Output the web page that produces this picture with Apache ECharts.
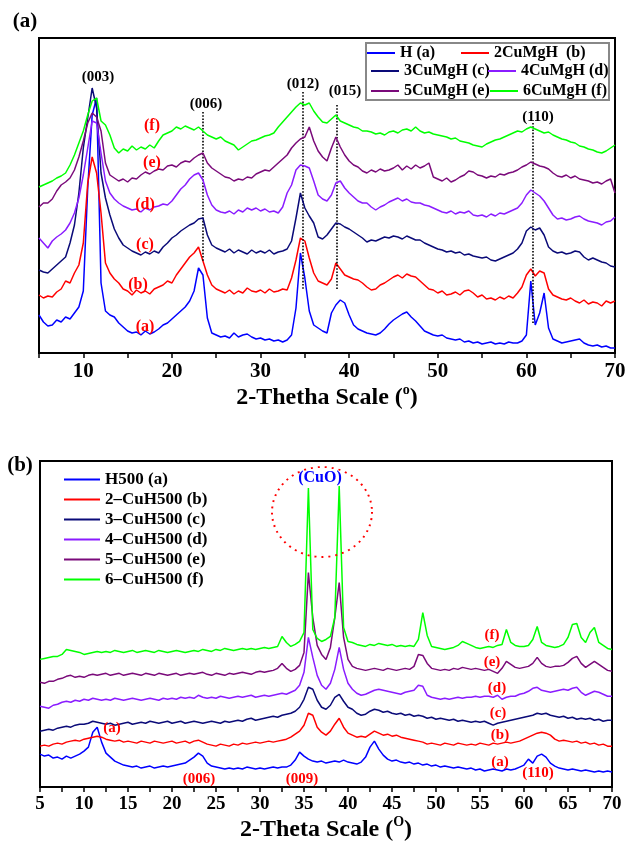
<!DOCTYPE html>
<html>
<head>
<meta charset="utf-8">
<script src="https://cdn.jsdelivr.net/npm/echarts@6/dist/echarts.min.js"></script>
<style>
html, body { margin: 0; padding: 0; background: #fff; }
#xrd { width: 629px; height: 843px; }
</style>
</head>
<body>
<div id="xrd"></div>
<script>
// 2-theta grid: every series starts at 5 deg, one value per 0.5 deg up to 70
var thetaStart = 5, thetaStep = 0.5;

// ---- panel (a): as-prepared samples (stacked intensity, arbitrary units) ----
var namesA = ['H (a)', '2CuMgH  (b)', '3CuMgH (c)', '4CuMgH (d)', '5CuMgH (e)', '6CuMgH (f)'];
var H_a = [38,31,27,28,33,31,36,34,40,46, 62,165,238,255,70,42,38,36,30,26,
  22,20,21,18,22,19,21,24,28,30, 34,38,42,46,52,62,85,78,35,20,
  18,16,17,15,20,16,18,19,16,14, 15,13,14,12,13,11,13,18,45,100,
  75,42,28,25,22,20,40,48,53,50, 38,28,24,22,20,19,18,20,24,29,
  33,36,39,41,36,32,27,22,20,18, 17,18,15,14,13,14,11,12,10,11,
  9,10,11,9,10,9,11,10,10,12, 18,72,28,40,60,25,14,12,10,11,
  12,13,14,10,8,7,8,6,7,5, 5];
var Cu2_a = [58,55,57,56,61,64,72,70,80,88, 110,170,196,180,140,90,80,74,70,64,
  62,58,63,60,62,59,64,66,68,72, 70,78,84,90,96,100,106,92,78,68,
  64,62,60,63,59,62,60,65,62,61, 63,60,64,61,62,64,63,75,93,115,
  112,95,80,72,70,68,74,90,84,78, 76,74,73,70,66,63,64,68,70,73,
  76,78,75,79,77,76,72,68,64,63, 60,62,58,59,61,58,62,63,60,56,
  58,54,55,53,56,54,57,55,60,66, 78,84,77,82,80,64,58,56,54,53,
  55,52,50,53,49,51,50,47,52,50, 52];
var Cu3_a = [83,81,80,84,88,92,96,110,128,160, 205,235,265,245,180,155,138,124,115,108,
  105,102,100,98,101,99,102,100,106,110, 115,118,122,125,128,130,134,135,118,108,
  105,103,101,104,100,103,101,99,103,100, 102,100,103,99,101,102,104,112,135,160,
  145,137,130,116,114,118,124,130,129,126, 124,121,118,115,111,113,112,114,116,115,
  117,116,114,117,115,113,113,110,108,106, 104,103,101,102,100,101,98,99,97,96,
  95,96,93,92,94,96,98,100,104,110, 122,126,123,125,118,106,102,100,101,99,
  100,102,101,96,93,95,93,91,90,87, 86];
var Cu4_a = [115,110,105,112,116,119,123,130,140,155, 178,205,232,230,200,172,160,154,150,147,
  145,143,144,141,145,143,146,147,149,148, 152,158,164,168,174,178,180,173,158,148,
  143,141,140,142,139,143,141,145,143,145, 142,144,141,142,140,146,160,168,183,188,
  187,185,172,158,154,152,158,170,172,165, 160,156,152,150,150,146,143,146,148,151,
  153,155,152,154,151,150,150,148,147,145, 143,141,140,142,139,141,140,142,138,137,
  138,136,139,137,140,139,141,143,145,150, 158,163,160,157,152,145,138,134,135,133,
  134,136,137,134,132,131,130,128,131,132, 136];
var Cu5_a = [146,150,150,154,162,168,171,175,183,196, 212,230,240,236,222,190,178,175,172,174,
  171,175,174,178,181,179,182,184,183,187, 188,186,190,192,191,195,198,200,190,185,
  182,179,176,175,172,174,173,176,175,179, 181,183,182,186,190,194,198,205,210,214,
  216,226,212,202,196,192,205,216,206,198, 192,188,186,182,180,183,181,184,182,183,
  185,188,183,187,184,188,185,187,190,176, 174,172,175,171,173,176,178,182,181,178,
  177,175,177,176,179,178,180,181,183,186, 188,191,189,187,186,184,180,177,176,178,
  175,177,174,173,172,170,171,169,172,174, 160];
var Cu6_a = [166,168,170,172,175,177,180,188,198,210, 222,238,252,255,232,228,218,205,200,204,
  202,207,203,206,204,208,205,212,218,220, 222,226,224,227,225,223,226,222,218,216,
  214,216,212,210,208,203,206,209,212,213, 215,217,218,220,226,231,236,241,246,250,
  248,250,242,236,231,230,234,238,232,230, 228,226,225,222,222,221,219,220,218,221,
  222,220,223,224,222,226,222,220,221,219, 218,217,216,214,215,212,211,210,208,207,
  206,209,211,213,214,216,218,220,222,221, 224,226,224,222,220,221,218,216,214,213,
  211,210,207,206,204,203,201,200,202,205, 208];

// reflections marked with dotted lines in panel (a): [2theta, top, bottom]
var reflA = [[23.5, 241, 91], [34.8, 261, 63], [38.6, 248, 63], [60.7, 230, 30]];

// ---- panel (b): calcined at 500 C ----
var namesB = ['H500 (a)', '2\u2013CuH500 (b)', '3\u2013CuH500 (c)', '4\u2013CuH500 (d)', '5\u2013CuH500 (e)', '6\u2013CuH500 (f)'];
var H_b = [33,31,32,29,30,28,31,29,31,33, 36,40,55,60,45,34,30,26,24,22,
  21,20,21,19,20,21,19,20,21,20, 21,22,23,24,27,30,34,31,24,21,
  20,19,18,19,18,19,18,20,19,18, 19,18,19,20,19,20,20,22,27,35,
  31,28,26,25,26,24,25,26,25,27, 25,24,23,25,30,40,46,38,32,28,
  26,27,25,24,25,23,24,22,23,21, 22,20,21,20,19,20,19,18,19,17,
  18,16,17,18,17,16,18,17,18,20, 22,28,24,31,33,30,24,21,19,18,
  17,18,17,16,17,16,15,16,15,16, 15];
var Cu2_b = [41,42,41,43,44,43,45,46,47,46, 48,49,50,51,50,48,47,46,47,45,
  46,45,44,46,45,44,46,45,44,45, 46,44,45,46,44,46,47,45,43,42,
  41,43,42,41,43,42,44,43,44,45, 44,45,46,45,46,47,48,50,53,56,
  62,74,72,60,55,52,56,63,69,60, 54,52,50,51,50,53,56,54,52,53,
  51,52,50,49,48,47,46,45,43,44, 43,42,44,43,42,44,43,42,43,42,
  44,43,42,44,43,44,45,44,45,46, 48,50,52,54,55,54,52,48,46,47,
  46,45,46,44,45,43,44,42,43,41, 41];
var Cu3_b = [56,57,58,57,59,60,61,60,62,63, 63,64,66,65,64,63,64,62,63,64,
  65,63,64,65,64,66,65,64,65,66, 64,65,66,64,65,66,65,64,65,66,
  65,64,66,65,66,67,66,68,69,67, 68,69,70,71,70,72,73,74,76,80,
  88,100,98,87,80,78,82,90,93,86, 80,78,74,72,73,76,78,77,75,76,
  74,73,74,72,73,71,72,71,69,70, 68,69,68,67,68,66,67,66,65,66,
  65,66,64,62,64,65,66,67,68,69, 70,71,72,74,73,74,72,71,70,71,
  69,70,68,69,68,69,67,68,66,67, 67];
var Cu4_b = [81,80,79,82,83,85,86,85,87,86, 88,87,89,88,87,88,87,89,88,87,
  88,89,88,87,88,89,88,87,89,88, 89,88,90,89,90,89,92,90,89,90,
  89,91,90,89,90,91,90,91,92,90, 91,92,91,92,93,94,93,95,97,102,
  115,150,130,112,102,98,104,118,140,118, 104,98,94,92,93,95,97,98,97,96,
  95,94,93,95,96,97,102,101,92,90, 89,88,89,88,89,90,89,90,90,91,
  90,91,91,90,92,88,90,91,91,93, 94,96,99,100,97,96,95,96,97,98,
  97,99,100,95,92,94,96,95,93,91, 91];
var Cu5_b = [105,104,106,106,108,109,111,112,110,111, 110,112,113,112,113,114,112,113,114,112,
  113,114,113,112,114,113,112,114,113,112, 113,114,112,113,114,113,114,115,113,112,
  114,113,112,114,113,114,115,114,113,115, 116,115,116,117,119,124,119,116,118,122,
  135,215,170,142,133,128,140,170,205,150, 128,121,119,118,117,118,119,118,117,119,
  118,117,118,119,118,121,133,132,124,119, 118,117,118,117,119,118,120,119,118,119,
  118,117,118,116,114,119,126,123,120,119, 120,121,124,130,124,121,120,121,121,122,
  125,129,131,124,120,123,126,123,120,117, 116];
var Cu6_b = [128,129,130,131,131,133,138,137,136,135, 133,134,135,136,135,136,135,137,136,135,
  136,137,135,136,137,136,135,137,136,135, 136,137,136,135,136,137,136,138,137,136,
  138,137,139,138,137,138,139,138,139,138, 139,140,139,140,141,151,145,141,143,146,
  155,300,158,149,146,148,151,170,302,160, 146,145,143,142,141,143,142,144,143,142,
  143,141,142,141,142,141,148,175,152,141, 140,139,138,139,140,142,146,144,142,140,
  139,140,141,140,142,143,158,145,142,141, 141,142,148,161,145,142,141,140,141,143,
  150,163,164,150,145,155,160,145,142,139, 138];

var lineColors = ['#0000ff', '#ff0000', '#0a0a78', '#8a1cff', '#7a0a7a', '#00ff00'];
var serif = '"Liberation Serif", "Times New Roman", serif';

function toPairs(vals) {
  return vals.map(function (v, i) { return [thetaStart + i * thetaStep, v]; });
}

function makeSeries(names, sets, axis) {
  return sets.map(function (vals, i) {
    return {
      name: names[i],
      type: 'line',
      xAxisIndex: axis,
      yAxisIndex: axis,
      data: toPairs(vals),
      symbol: 'none',
      color: lineColors[i],
      lineStyle: { width: 1.5, color: lineColors[i] },
      silent: true,
      z: 3 + i
    };
  });
}

var seriesA = makeSeries(namesA, [H_a, Cu2_a, Cu3_a, Cu4_a, Cu5_a, Cu6_a], 0);
var seriesB = makeSeries(namesB, [H_b, Cu2_b, Cu3_b, Cu4_b, Cu5_b, Cu6_b], 1);

seriesA[0].markLine = {
  silent: true,
  symbol: ['none', 'none'],
  label: { show: false },
  lineStyle: { type: 'dotted', color: '#000', width: 1.6 },
  data: reflA.map(function (r) { return [{ coord: [r[0], r[1]] }, { coord: [r[0], r[2]] }]; })
};

// one legend per entry so each one sits where it does in the figure
function legendItem(name, left, top, w, size) {
  return {
    data: [name], left: left, top: top, z: 100,
    icon: 'rect', itemWidth: w, itemHeight: 2, itemGap: 0, padding: 0,
    selectedMode: false,
    textStyle: { fontFamily: serif, fontWeight: 'bold', fontSize: size, color: '#000' }
  };
}

function txt(s, x, y, color, size) {
  return {
    type: 'text', x: x, y: y, silent: true, z: 100,
    style: { text: s, fill: color, font: 'bold ' + size + 'px ' + serif, align: 'center', verticalAlign: 'middle' }
  };
}

function xAxisFor(grid, showAll, labelSize, name) {
  return {
    type: 'value', gridIndex: grid, min: 5, max: 70, interval: 5,
    axisLine: { show: true, onZero: false, lineStyle: { color: '#000', width: 2 } },
    axisTick: { show: true, length: 5, lineStyle: { color: '#000', width: 1.5 } },
    minorTick: { show: showAll, splitNumber: 2, length: 5, lineStyle: { color: '#000', width: 1.5 } },
    splitLine: { show: false },
    axisLabel: {
      margin: 8, color: '#000', fontFamily: serif, fontWeight: 'bold', fontSize: labelSize,
      formatter: function (v) { return (showAll || v % 10 === 0) ? String(v) : ''; }
    },
    name: name, nameLocation: 'middle', nameGap: 28,
    nameTextStyle: {
      rich: {
        t: { fontFamily: serif, fontWeight: 'bold', fontSize: 24, color: '#000' },
        s: { fontFamily: serif, fontWeight: 'bold', fontSize: 14, color: '#000', padding: [0, 0, 16, 0] }
      }
    }
  };
}

function yAxisFor(grid, max) {
  return {
    type: 'value', gridIndex: grid, min: 0, max: max,
    axisLine: { show: false }, axisTick: { show: false },
    axisLabel: { show: false }, splitLine: { show: false }
  };
}

var myChart = echarts.init(document.getElementById('xrd'), null, { renderer: 'canvas' });

var option = {
  animation: false,
  backgroundColor: '#fff',
  grid: [
    { left: 39, top: 38, right: 14, bottom: 490, show: true, borderColor: '#000', borderWidth: 2 },
    { left: 40, top: 461, right: 17, bottom: 55, show: true, borderColor: '#000', borderWidth: 2 }
  ],
  xAxis: [
    xAxisFor(0, false, 21, '{t|2-Thetha Scale (}{s|o}{t|)}'),
    xAxisFor(1, true, 19, '{t|2-Theta Scale (}{s|O}{t|)}')
  ],
  yAxis: [yAxisFor(0, 315), yAxisFor(1, 327)],
  legend: [
    legendItem(namesA[0], 367, 45, 28, 16),
    legendItem(namesA[1], 461, 45, 28, 16),
    legendItem(namesA[2], 371, 63, 28, 16),
    legendItem(namesA[3], 488, 63, 28, 16),
    legendItem(namesA[4], 371, 83, 28, 16),
    legendItem(namesA[5], 490, 83, 28, 16),
    legendItem(namesB[0], 64, 471, 36, 17),
    legendItem(namesB[1], 64, 491, 36, 17),
    legendItem(namesB[2], 64, 511, 36, 17),
    legendItem(namesB[3], 64, 531, 36, 17),
    legendItem(namesB[4], 64, 551, 36, 17),
    legendItem(namesB[5], 64, 571, 36, 17)
  ],
  graphic: [
    { type: 'rect', shape: { x: 366, y: 43, width: 243, height: 57 }, z: 1, silent: true,
      style: { fill: '#fff', stroke: '#888', lineWidth: 2 } },
    { type: 'circle', x: 322, y: 512, scaleY: 0.9, shape: { cx: 0, cy: 0, r: 50 }, z: 60, silent: true,
      style: { fill: 'none', stroke: '#ff0000', lineWidth: 2, lineDash: [2, 5] } },
    txt('(a)', 25, 22, '#000', 21),
    txt('(b)', 20, 466, '#000', 21),
    txt('(003)', 98, 77, '#000', 15),
    txt('(006)', 206, 104, '#000', 15),
    txt('(012)', 303, 84, '#000', 15),
    txt('(015)', 345, 91, '#000', 15),
    txt('(110)', 538, 117, '#000', 15),
    txt('(f)', 152, 126, '#ff0000', 16),
    txt('(e)', 152, 163, '#ff0000', 16),
    txt('(d)', 145, 205, '#ff0000', 16),
    txt('(c)', 145, 245, '#ff0000', 16),
    txt('(b)', 138, 285, '#ff0000', 16),
    txt('(a)', 145, 327, '#ff0000', 16),
    txt('(CuO)', 320, 478, '#0000ff', 16),
    txt('(a)', 112, 728, '#ff0000', 15),
    txt('(006)', 199, 779, '#ff0000', 15),
    txt('(009)', 302, 779, '#ff0000', 15),
    txt('(110)', 538, 773, '#ff0000', 15),
    txt('(f)', 492, 635, '#ff0000', 15),
    txt('(e)', 492, 662, '#ff0000', 15),
    txt('(d)', 497, 688, '#ff0000', 15),
    txt('(c)', 498, 713, '#ff0000', 15),
    txt('(b)', 500, 735, '#ff0000', 15),
    txt('(a)', 500, 762, '#ff0000', 15)
  ],
  series: seriesA.concat(seriesB)
};

myChart.setOption(option);
</script>
</body>
</html>
